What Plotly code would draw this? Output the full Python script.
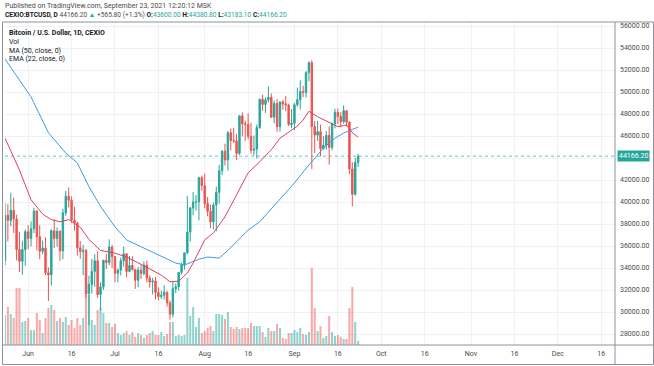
import pandas as pd
import plotly.graph_objects as go

# ---------------- data ----------------
dates = pd.date_range("2021-05-24", "2021-09-23", freq="D")

opens = [34680, 38790, 38330, 39240, 38450, 35690, 34610, 35670,
         37300, 36690, 37570, 39190, 36850, 35520, 35800, 33570, 33380, 37390, 36680, 37330, 35550, 39020, 40530,
         40160, 38350, 38090, 35830, 35490, 35600, 31680, 32510, 33690, 34660, 31590, 32280, 34700, 34490, 35910,
         35040, 33520, 33810, 34670, 35290, 33690, 34220, 33860, 32880, 33810, 33510, 34260, 33090, 32730, 32820,
         31780, 31400, 31530, 31790, 30820, 29800, 32110, 32290, 33600, 34260, 35380, 37270, 39460, 40000, 40020, 42210,
         41490, 39860, 39150, 38200, 39730, 40880, 42840, 44620, 43820, 46290, 45590, 45550, 44420, 47830, 47110,
         47050, 45980, 44700, 44800, 46770, 49340, 48870, 49290, 49520, 47700, 48960, 46850, 49090, 48920, 48810, 47040,
         47150, 48840, 49300, 50040, 49950, 51760, 52660, 46860, 46080, 46400, 44850, 45150, 46060, 44960, 47110,
         48150, 47770, 47300, 48300, 47250, 43010, 40700, 43600]
highs = [39920, 39800, 40840, 40400, 38850, 37300, 36470, 37500,
         37900, 38230, 39480, 39250, 37900, 36480, 36790, 34060, 37530, 38400, 37690, 37440, 39380, 41000, 41330,
         40500, 39560, 38200, 36450, 36100, 35750, 33300, 34830, 35250, 35500, 32700, 34750, 35300, 36600, 36100,
         35040, 33940, 34950, 35950, 35300, 35100, 35070, 33910, 34100, 34260, 34590, 34680, 33330, 33100, 33200,
         32250, 31950, 32430, 31890, 31050, 32800, 32600, 33600, 34480, 35400, 40550, 39550, 40900, 40620, 42300, 42410,
         42600, 40450, 39780, 39950, 41400, 43380, 44700, 45300, 46470, 46680, 46750, 46200, 47850, 48150, 47400,
         48050, 47200, 46050, 47050, 49380, 49760, 49500, 50500, 49860, 49230, 49360, 49170, 49300, 49650, 48930, 48450,
         49000, 50400, 51050, 50550, 51900, 52800, 52900, 47350, 47370, 47030, 45990, 46450, 46870, 47250, 48480,
         48500, 48160, 48800, 48370, 47340, 43620, 44000, 44380.8]
lows = [34220, 36420, 37800, 37180, 34700, 33630, 33380, 34200,
        35700, 35970, 37170, 35600, 34800, 35260, 33350, 31000, 32400, 35800, 35950, 34650, 34800, 38750, 39510,
        38120, 37400, 35130, 34830, 33360, 31260, 28800, 31700, 32300, 31300, 30150, 32000, 33900, 34250, 34000,
        32710, 32700, 33320, 34120, 33150, 33600, 33770, 32100, 32250, 33000, 33320, 32680, 32210, 31600, 31150,
        31050, 31180, 31120, 30500, 29300, 29500, 31720, 31950, 33400, 33850, 35250, 36400, 38780, 39220, 38330, 41030,
        39420, 38700, 37640, 37510, 37330, 39850, 42450, 43300, 42850, 44700, 45350, 43800, 44280, 45970, 45530,
        45700, 44400, 44230, 43950, 46650, 48300, 48100, 49060, 47650, 47160, 46380, 46400, 48390, 48250, 46900, 46710,
        46530, 48650, 48400, 49540, 49500, 50980, 43000, 44450, 45560, 44150, 44750, 44760, 43400, 44700, 46700,
        47080, 46780, 47120, 46860, 42550, 39600, 40580, 43183.1]
closes = [38790, 38330, 39240, 38450, 35690, 34610, 35670, 37300,
          36690, 37570, 39190, 36850, 35520, 35800, 33570, 33380, 37390, 36680, 37330, 35550, 39020, 40530, 40160,
          38350, 38090, 35830, 35490, 35600, 31680, 32510, 33690, 34660, 31590, 32280, 34700, 34490, 35910, 35040,
          33520, 33810, 34670, 35290, 33690, 34220, 33860, 32880, 33810, 33510, 34260, 33090, 32730, 32820, 31780,
          31400, 31530, 31790, 30820, 29800, 32110, 32290, 33600, 34260, 35380, 37270, 39460, 40000, 40020, 42210, 41490,
          39860, 39150, 38200, 39730, 40880, 42840, 44620, 43820, 46290, 45590, 45550, 44420, 47830, 47110, 47050,
          45980, 44700, 44800, 46770, 49340, 48870, 49290, 49520, 47700, 48960, 46850, 49090, 48920, 48810, 47040, 47150,
          48840, 49300, 50040, 49950, 51760, 52660, 46860, 46080, 46400, 44850, 45150, 46060, 44960, 47110, 48150,
          47770, 47300, 48300, 47250, 43010, 40700, 43600, 44166.2]
volumes = [3000, 3800, 3100, 2700, 5700, 5700, 2300, 2400,
           2700, 1500, 1500, 3200, 2500, 1200, 2700, 3700, 4000, 3500, 2400, 2700, 2300, 2800, 2000,
           2500, 1700, 2700, 2000, 2700, 5200, 5000, 2500, 2000, 3500, 3700, 3200, 2200, 2200, 1800,
           2100, 1200, 1000, 1200, 1400, 1000, 1300, 800, 1200, 1000, 700, 1000, 1200, 1400, 1000,
           1000, 1300, 900, 1100, 2300, 2300, 900, 1000, 900, 1000, 6700, 2900, 3800, 1800, 2700, 1200,
           1400, 1700, 1900, 1400, 3100, 3100, 3000, 2600, 3300, 1800, 1600, 1800, 1600, 1700, 1700,
           1700, 2200, 1900, 1900, 1900, 1300, 800, 1700, 1400, 1400, 2100, 1700, 700, 600, 1200, 1200,
           1500, 1300, 1700, 1100, 1000, 1300, 7700, 3700, 1400, 1900, 700, 900, 2900, 1300, 900,
           1000, 800, 600, 600, 3700, 5800, 2300, 400]

ma_dates = ["2021-05-24", "2021-06-02", "2021-06-08", "2021-06-14", "2021-06-18", "2021-06-22", "2021-06-26",
            "2021-07-01", "2021-07-05", "2021-07-11", "2021-07-17", "2021-07-22", "2021-07-25", "2021-07-28",
            "2021-07-30", "2021-08-02", "2021-08-06", "2021-08-09", "2021-08-13", "2021-08-16", "2021-08-20",
            "2021-08-23", "2021-08-27", "2021-08-30", "2021-09-01", "2021-09-04", "2021-09-08", "2021-09-11",
            "2021-09-15", "2021-09-18", "2021-09-21", "2021-09-23"]
ma50 = [53000, 49550, 46300, 44450, 43550, 41400, 39600,
        37750, 36550, 35800, 35000, 34450, 34270, 34550,
        34800, 35000, 34900, 35600, 36700, 37450, 38200,
        39100, 40300, 41100, 41730, 42730, 44000, 44900,
        45800, 46270, 46600, 46800]

ema_dates = ["2021-05-24", "2021-05-29", "2021-06-02", "2021-06-06", "2021-06-09", "2021-06-12", "2021-06-15",
             "2021-06-19", "2021-06-22", "2021-06-26", "2021-07-01", "2021-07-05", "2021-07-11", "2021-07-17",
             "2021-07-20", "2021-07-23", "2021-07-26", "2021-07-28", "2021-08-01", "2021-08-04", "2021-08-08",
             "2021-08-12", "2021-08-16", "2021-08-20", "2021-08-24", "2021-08-27", "2021-08-31", "2021-09-02",
             "2021-09-04", "2021-09-06", "2021-09-09", "2021-09-13", "2021-09-16", "2021-09-19", "2021-09-20",
             "2021-09-21", "2021-09-23"]
ema22 = [45800, 42900, 40200, 38900, 38400, 38200, 38400,
         37700, 36600, 35600, 35350, 35000, 34200, 33350,
         32750, 32800, 33550, 34450, 36550, 37200, 38650,
         40650, 42650, 43650, 44750, 45800, 46550, 46900,
         47450, 48250, 47750, 47200, 46850, 47000, 46700,
         46300, 45900]

x_tick_dates = ["2021-06-01", "2021-06-16", "2021-07-01", "2021-07-16", "2021-08-01", "2021-08-16",
                "2021-09-01", "2021-09-16", "2021-10-01", "2021-10-16", "2021-11-01", "2021-11-16",
                "2021-12-01", "2021-12-16"]
x_tick_text = ["Jun", "16", "Jul", "16", "Aug", "16", "Sep", "16", "Oct", "16", "Nov", "16", "Dec", "16"]
y_ticks = list(range(28000, 56001, 2000))
# the 44000 label is hidden behind the last-price tag in the reference
y_tick_text = ["" if v == 44000 else f"{v}.00" for v in y_ticks]
last_price = 44166.20

# ---------------- styling ----------------
UP = "#26a69a"
DOWN = "#ef5350"
FONT = "Roboto"
TXT = "#131722"
FRAME = "#8f929b"
GRID = "#eef1f6"

vol_colors = ["rgba(38,166,154,0.5)" if c >= o else "rgba(239,83,80,0.5)" for o, c in zip(opens, closes)]

fig = go.Figure()
fig.add_trace(go.Bar(x=dates, y=volumes, marker=dict(color=vol_colors, line=dict(width=0)),
                     yaxis="y", hoverinfo="skip", showlegend=False))
fig.add_trace(go.Candlestick(x=dates, open=opens, high=highs, low=lows, close=closes, yaxis="y2",
                             increasing=dict(line=dict(color=UP, width=1), fillcolor=UP),
                             decreasing=dict(line=dict(color=DOWN, width=1), fillcolor=DOWN),
                             whiskerwidth=0, showlegend=False))
fig.add_trace(go.Scatter(x=ma_dates, y=ma50, mode="lines", line=dict(color="#3d9be9", width=1),
                         yaxis="y2", showlegend=False))
fig.add_trace(go.Scatter(x=ema_dates, y=ema22, mode="lines", line=dict(color="#e0405e", width=1),
                         yaxis="y2", showlegend=False))

# plot area: x 5..615 px, y 22..345 px
L, R, T, B = 5, 615, 22, 345
W, H = 654, 366


def px(x):
    return (x - L) / (R - L)


def py(y):
    return (B - y) / (B - T)


shapes = [
    dict(type="line", xref="paper", yref="y2", x0=0, x1=1, y0=last_price, y1=last_price,
         line=dict(color="rgba(38,166,154,0.7)", width=1, dash="dot")),
    # frame
    dict(type="line", xref="paper", yref="paper", x0=px(2.5), x1=px(653.5), y0=1, y1=1,
         line=dict(color=FRAME, width=1)),
    dict(type="line", xref="paper", yref="paper", x0=px(2.5), x1=px(653.5), y0=0, y1=0,
         line=dict(color=FRAME, width=1)),
    dict(type="line", xref="paper", yref="paper", x0=1, x1=1, y0=py(364.5), y1=1,
         line=dict(color=FRAME, width=1)),
    dict(type="line", xref="paper", yref="paper", x0=px(2.5), x1=px(2.5), y0=py(364.5), y1=1,
         line=dict(color=FRAME, width=1)),
    dict(type="line", xref="paper", yref="paper", x0=px(653.5), x1=px(653.5), y0=py(364.5), y1=1,
         line=dict(color=FRAME, width=1)),
    dict(type="line", xref="paper", yref="paper", x0=px(2.5), x1=px(653.5), y0=py(364.5), y1=py(364.5),
         line=dict(color=FRAME, width=1)),
]

teal = "#26a69a"
grey = "#4a4a4a"
line2 = (f"<b>CEXIO:BTCUSD, D</b> <span style='color:{grey}'>44166.20</span>"
         f" <span style='color:{teal}'>▲</span> <span style='color:{grey}'>+565.80 (+1.3%)</span>"
         f" <b>O:</b><span style='color:{teal}'>43600.00</span>"
         f" <b>H:</b><span style='color:{teal}'>44380.80</span>"
         f" <b>L:</b><span style='color:{teal}'>43183.10</span>"
         f" <b>C:</b><span style='color:{teal}'>44166.20</span>")

annotations = [
    dict(xref="paper", yref="paper", x=px(3), y=py(6), xanchor="left", yanchor="middle", showarrow=False,
         text="Published on TradingView.com, September 23, 2021 12:20:12 MSK",
         font=dict(family=FONT, size=7, color=grey)),
    dict(xref="paper", yref="paper", x=px(3), y=py(15.5), xanchor="left", yanchor="middle", showarrow=False,
         text=line2, font=dict(family=FONT, size=6.6, color=TXT)),
    dict(xref="paper", yref="paper", x=px(7), y=py(33), xanchor="left", yanchor="middle", showarrow=False,
         text="<b>Bitcoin / U.S. Dollar, 1D, CEXIO</b>", font=dict(family=FONT, size=7, color=TXT)),
    dict(xref="paper", yref="paper", x=px(7), y=py(41.5), xanchor="left", yanchor="middle", showarrow=False,
         text="Vol", font=dict(family=FONT, size=7, color=TXT)),
    dict(xref="paper", yref="paper", x=px(7), y=py(50.5), xanchor="left", yanchor="middle", showarrow=False,
         text="MA (50, close, 0)", font=dict(family=FONT, size=7, color=TXT)),
    dict(xref="paper", yref="paper", x=px(7), y=py(59), xanchor="left", yanchor="middle", showarrow=False,
         text="EMA (22, close, 0)", font=dict(family=FONT, size=7, color=TXT)),
    dict(xref="paper", yref="y2", x=px(617), y=last_price, xanchor="left", yanchor="middle", showarrow=False,
         text="44166.20", bgcolor=teal, borderpad=1, font=dict(family=FONT, size=7, color="white")),
]

fig.update_layout(
    width=W, height=H,
    margin=dict(l=L, r=W - R, t=T, b=H - B),
    paper_bgcolor="white", plot_bgcolor="white",
    bargap=0.3,
    showlegend=False,
    font=dict(family=FONT, size=7, color=TXT),
    xaxis=dict(type="date", range=["2021-05-24 00:00", "2021-12-20 18:00"],
               tickvals=x_tick_dates, ticktext=x_tick_text, showgrid=True, gridcolor=GRID, gridwidth=1,
               zeroline=False, showline=False, ticks="", ticklabelstandoff=3,
               tickfont=dict(family=FONT, size=7, color=grey),
               rangeslider=dict(visible=False), fixedrange=True),
    yaxis=dict(range=[0, 32300], visible=False, showgrid=False, zeroline=False, fixedrange=True),
    yaxis2=dict(overlaying="y", side="right", range=[27000, 56364], tickvals=y_ticks, ticktext=y_tick_text,
                showgrid=True, gridcolor=GRID, gridwidth=1, zeroline=False, showline=False, ticks="",
                ticklabelstandoff=4, tickfont=dict(family=FONT, size=7, color=grey), fixedrange=True),
    shapes=shapes,
    annotations=annotations,
)

fig.write_html("out.html", config={"displayModeBar": False},
               post_script="document.body.style.margin='0';document.body.style.overflow='hidden';")
